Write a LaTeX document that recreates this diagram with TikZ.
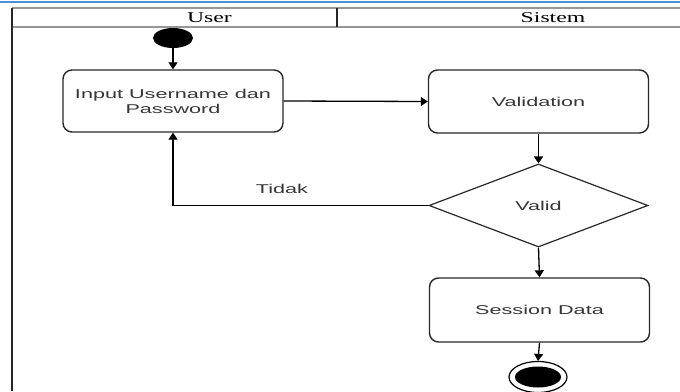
\documentclass[tikz,border=0pt]{standalone}
\usepackage{fontspec}
\setmainfont{Liberation Sans}
\newfontfamily\boxfont[FakeStretch=1.69]{Liberation Sans}
\newfontfamily\headfont[FakeStretch=1.58]{Liberation Serif}
\usetikzlibrary{shapes.geometric,arrows.meta}
\definecolor{topblue}{RGB}{74,144,217}
\definecolor{tablegray}{RGB}{150,150,150}
\definecolor{txtgray}{RGB}{55,55,55}
\definecolor{edgecol}{RGB}{40,40,40}
\begin{document}
\begin{tikzpicture}[x=1pt,y=-1pt,
  boxtext/.style={font=\boxfont\fontsize{12.8}{15}\selectfont, text=txtgray},
  actbox/.style={boxtext, draw=edgecol, line width=1.4pt, rounded corners=9pt, fill=white,
    minimum width=220pt, minimum height=63pt, inner sep=0pt, align=center},
  decbox/.style={boxtext, diamond, draw=edgecol, line width=1.2pt, fill=white,
    minimum width=219pt, minimum height=83pt, inner sep=0pt},
  flow/.style={draw=black, line width=1.3pt, -{Triangle[width=9pt,length=7pt]}},
  headtext/.style={font=\headfont\fontsize{15}{16}\selectfont, text=black},
  tline/.style={draw=tablegray, line width=1.3pt},
]
\useasboundingbox (0,0) rectangle (680,391);
\fill[white] (0,0) rectangle (680,391);
% top blue rule
\draw[topblue, line width=2pt] (0,2) -- (680,2);
% swimlane table
\draw[tline] (12,8) -- (680,8);
\draw[tline] (12,27) -- (680,27);
\draw[draw=black!85, line width=1.3pt] (337,8) -- (337,27);
\draw[draw=black!85, line width=1.5pt] (12,8) -- (12,391);
\node[headtext] (huser) at (209.5,17.5) {User};
\node[headtext] (hsis) at (553,17.5) {Sistem};
% nodes
\node[ellipse, fill=black, minimum width=40pt, minimum height=20pt, inner sep=0pt] (start) at (173,38) {};
\node[actbox, minimum height=62pt] (input) at (173,101) {Input Username dan\\Password};
\node[actbox] (valid) at (538.5,101.5) {Validation};
\node[decbox] (dec) at (538.5,205.5) {Valid};
\node[actbox, minimum height=64pt] (sess) at (539.5,310) {Session Data};
\node[ellipse, draw=black, line width=1.2pt, fill=white, minimum width=58pt, minimum height=31pt, inner sep=0pt] (endo) at (538,377) {};
\node[ellipse, fill=black, minimum width=46pt, minimum height=21pt, inner sep=0pt] (endi) at (538,377) {};
% connectors
\draw[flow] (start.south) -- (input.north);
\draw[flow] (input.east) -- (valid.west);
\draw[flow] (valid.south) -- (dec.north);
\draw[flow] (dec.west) -| (input.south);
\node[boxtext] (tidak) at (282,189) {Tidak};
\draw[flow] (dec.south) -- (sess.north);
\draw[flow] (sess.south) -- (endo.north);
\end{tikzpicture}
\end{document}
